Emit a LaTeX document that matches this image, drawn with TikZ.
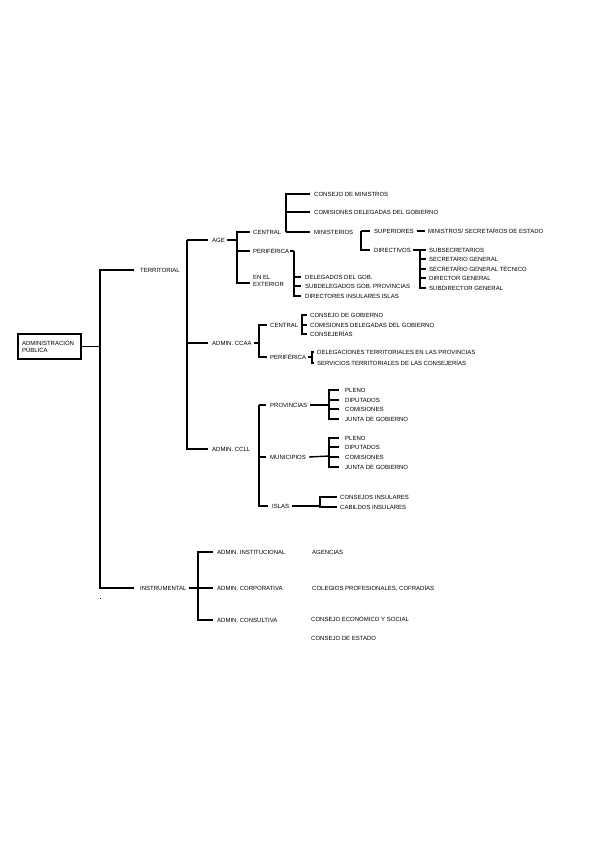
\documentclass[tikz,border=0pt]{standalone}
\usepackage{fontspec}
\setmainfont{Liberation Sans}
\usetikzlibrary{positioning}

\begin{document}
\begin{tikzpicture}[
    x=1pt, y=-1pt,
    font=\fontsize{6}{7}\selectfont,
    lbl/.style={anchor=west, inner sep=0pt, text height=4.4pt, text depth=0pt},
    lbltwo/.style={anchor=west, inner sep=0pt, align=left},
    rootbox/.style={draw, line width=1.5pt, text width=55pt, minimum width=63pt, minimum height=25pt, align=left, inner sep=0pt},
    br/.style={line width=1.4pt}
]
\fill[white] (0,0) rectangle (599,848);
\useasboundingbox (0,0) rectangle (599,848);

% root
\node[rootbox] (adm) at (49.5,346.5) {ADMINISTRACIÓN\\PÚBLICA};
\coordinate (jadm) at (100,346.5);
\draw[br] (adm.east) -- (jadm);
\node[lbl] (terr) at (140,270) {TERRITORIAL};
\node[lbl] (instr) at (140,588) {INSTRUMENTAL};
\foreach \c in {terr,instr}
  \draw[br] (jadm) |- ([xshift=-6pt]\c.west);
\fill (99.5,597.5) rectangle (101,599);

% territorial
\node[lbl] (age) at (212,240) {AGE};
\node[lbl] (ccaa) at (212,343) {ADMIN. CCAA};
\node[lbl] (ccll) at (212,449) {ADMIN. CCLL};
\coordinate (jterr) at (187,240);
\foreach \c in {age,ccaa,ccll}
  \draw[br] (jterr) |- ([xshift=-4pt]\c.west);

% AGE
\node[lbl] (agecen) at (253,232) {CENTRAL};
\node[lbl] (ageper) at (253,251) {PERIFÉRICA};
\node[lbltwo] (ageext) at (253,281) {EN EL\\EXTERIOR};
\coordinate (jage) at (237,240);
\draw[br] ([xshift=2pt]age.east) -- (jage);
\foreach \c in {agecen,ageper}
  \draw[br] (jage) |- ([xshift=-3pt]\c.west);
\draw[br] (jage) |- ([xshift=-3pt,yshift=-2pt]ageext.west);

% AGE central
\node[lbl] (cmin) at (314,194) {CONSEJO DE MINISTROS};
\node[lbl] (cdel) at (314,212) {COMISIONES DELEGADAS DEL GOBIERNO};
\node[lbl] (mins) at (314,232) {MINISTERIOS};
\coordinate (jcen) at (286,232);
\foreach \c in {cmin,cdel,mins}
  \draw[br] (jcen) |- ([xshift=-4pt]\c.west);

% ministerios
\node[lbl] (sup) at (374,231) {SUPERIORES};
\node[lbl] (dirv) at (374,250) {DIRECTIVOS};
\coordinate (jmin) at (361,231);
\foreach \c in {sup,dirv}
  \draw[br] (jmin) |- ([xshift=-4pt]\c.west);
\node[lbl] (msec) at (428,231) {MINISTROS/ SECRETARIOS DE ESTADO};
\draw[br] ([xshift=3pt]sup.east) -- ([xshift=-3pt]msec.west);

% directivos
\node[lbl] (subs) at (429,250) {SUBSECRETARIOS};
\node[lbl] (sgen) at (429,259) {SECRETARIO GENERAL};
\node[lbl] (sgt) at (429,269) {SECRETARIO GENERAL TÉCNICO};
\node[lbl] (dgen) at (429,278) {DIRECTOR GENERAL};
\node[lbl] (sdg) at (429,288) {SUBDIRECTOR GENERAL};
\coordinate (jdir) at (420,250);
\draw[br] ([xshift=2pt]dirv.east) -- (jdir);
\foreach \c in {subs,sgen,sgt,dgen,sdg}
  \draw[br] (jdir) |- ([xshift=-3pt]\c.west);

% AGE periferica
\node[lbl] (dgob) at (305,277) {DELEGADOS DEL GOB.};
\node[lbl] (sdgob) at (305,286) {SUBDELEGADOS GOB. PROVINCIAS};
\node[lbl] (dins) at (305,296) {DIRECTORES INSULARES ISLAS};
\coordinate (jper) at (294,251);
\draw[br] ([xshift=1pt]ageper.east) -- (jper);
\foreach \c in {dgob,sdgob,dins}
  \draw[br] (jper) |- ([xshift=-4pt]\c.west);

% CCAA
\node[lbl] (ccen) at (270,325) {CENTRAL};
\node[lbl] (cper) at (270,357) {PERIFÉRICA};
\coordinate (jccaa) at (259,343);
\draw[br] ([xshift=2pt]ccaa.east) -- (jccaa);
\foreach \c in {ccen,cper}
  \draw[br] (jccaa) |- ([xshift=-3pt]\c.west);

\node[lbl] (cgob) at (310,315) {CONSEJO DE GOBIERNO};
\node[lbl] (cdelb) at (310,325) {COMISIONES DELEGADAS DEL GOBIERNO};
\node[lbl] (cons) at (310,334) {CONSEJERÍAS};
\coordinate (jccen) at (302,325);
\foreach \c in {cgob,cdelb,cons}
  \draw[br] (jccen) |- ([xshift=-3pt]\c.west);

\node[lbl] (dter) at (317,352) {DELEGACIONES TERRITORIALES EN LAS PROVINCIAS};
\node[lbl] (ster) at (317,363) {SERVICIOS TERRITORIALES DE LAS CONSEJERÍAS};
\coordinate (jcper) at (312,357);
\draw[br] ([xshift=2pt]cper.east) -- (jcper);
\foreach \c in {dter,ster}
  \draw[br] (jcper) |- ([xshift=-3pt]\c.west);

% CCLL
\node[lbl] (prov) at (270,405) {PROVINCIAS};
\node[lbl] (mun) at (270,457) {MUNICIPIOS};
\node[lbl] (isl) at (272,506) {ISLAS};
\coordinate (jccll) at (259,405);
\foreach \c in {prov,mun,isl}
  \draw[br] (jccll) |- ([xshift=-4pt]\c.west);

\node[lbl] (plp) at (345,390) {PLENO};
\node[lbl] (dip) at (345,400) {DIPUTADOS};
\node[lbl] (comp) at (345,409) {COMISIONES};
\node[lbl] (jgp) at (345,419) {JUNTA DE GOBIERNO};
\coordinate (jprov) at (329,405);
\draw[br] ([xshift=3pt]prov.east) -- (jprov);
\foreach \c in {plp,dip,comp,jgp}
  \draw[br] (jprov) |- ([xshift=-6pt]\c.west);

\node[lbl] (plm) at (345,438) {PLENO};
\node[lbl] (dim) at (345,447) {DIPUTADOS};
\node[lbl] (comm) at (345,457) {COMISIONES};
\node[lbl] (jgm) at (345,467) {JUNTA DE GOBIERNO};
\coordinate (jmun) at (329,456);
\draw[br] ([xshift=3pt]mun.east) -- (jmun);
\foreach \c in {plm,dim,comm,jgm}
  \draw[br] (jmun) |- ([xshift=-6pt]\c.west);

\node[lbl] (cins) at (340,497) {CONSEJOS INSULARES};
\node[lbl] (cabi) at (340,507) {CABILDOS INSULARES};
\coordinate (jisl) at (320,506);
\draw[br] ([xshift=3pt]isl.east) -- (jisl);
\foreach \c in {cins,cabi}
  \draw[br] (jisl) |- ([xshift=-3pt]\c.west);

% instrumental
\node[lbl] (ainst) at (217,552) {ADMIN. INSTITUCIONAL};
\node[lbl] (acorp) at (217,588) {ADMIN. CORPORATIVA};
\node[lbl] (acons) at (217,620) {ADMIN. CONSULTIVA};
\coordinate (jins) at (198,588);
\draw[br] ([xshift=2pt]instr.east) -- (jins);
\foreach \c in {ainst,acorp,acons}
  \draw[br] (jins) |- ([xshift=-4pt]\c.west);

\node[lbl] (agen) at (312,552) {AGENCIAS};
\node[lbl] (coleg) at (312,588) {COLEGIOS PROFESIONALES, COFRADÍAS};
\node[lbl] (ces) at (311,619) {CONSEJO ECONÓMICO Y SOCIAL};
\node[lbl] (cest) at (311,638) {CONSEJO DE ESTADO};
\end{tikzpicture}
\end{document}
